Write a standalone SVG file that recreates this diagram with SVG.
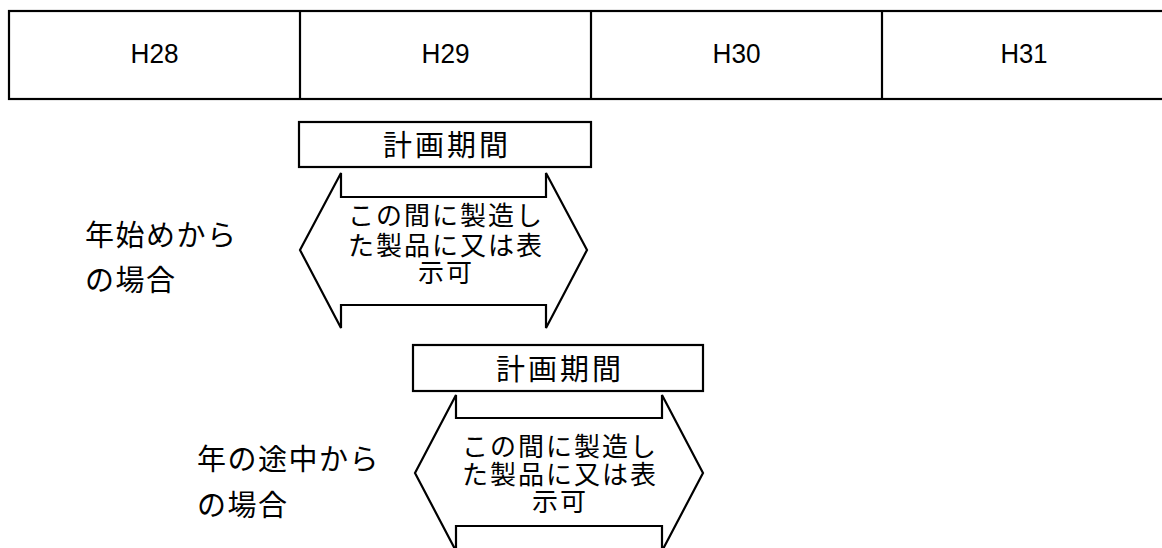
<svg xmlns="http://www.w3.org/2000/svg" width="1162" height="548" viewBox="0 0 1162 548">
<style>
.ln{fill:none;stroke:#000;stroke-width:2.2}
.box{fill:#fff;stroke:#000;stroke-width:2.2}
.hd{font-family:"Liberation Sans","Noto Sans CJK JP",sans-serif;font-size:28px;fill:#000;text-anchor:middle}
.jp{font-family:"Noto Sans CJK JP",sans-serif;fill:#000}
.t30{font-size:29px}
.t28{font-size:26px;text-anchor:middle;letter-spacing:2px}
</style>
<rect width="1162" height="548" fill="#fff"/>
<g id="table">
<rect class="ln" x="9" y="11" width="1164" height="88"/>
<line class="ln" x1="300" y1="11" x2="300" y2="99"/>
<line class="ln" x1="591" y1="11" x2="591" y2="99"/>
<line class="ln" x1="882" y1="11" x2="882" y2="99"/>
<text class="hd" x="154.5" y="63" textLength="48" lengthAdjust="spacingAndGlyphs">H28</text>
<text class="hd" x="445.5" y="63" textLength="48" lengthAdjust="spacingAndGlyphs">H29</text>
<text class="hd" x="736.5" y="63" textLength="48" lengthAdjust="spacingAndGlyphs">H30</text>
<text class="hd" x="1024" y="63" textLength="47" lengthAdjust="spacingAndGlyphs">H31</text>
</g>
<g id="label1">
<text class="jp t30" x="85" y="246" letter-spacing="1.5">年始めから</text>
<text class="jp t30" x="85" y="291" letter-spacing="1.5">の場合</text>
</g>
<g id="period1">
<rect class="box" x="299" y="122" width="292" height="45"/>
<text class="jp t30" x="447" y="156" text-anchor="middle" letter-spacing="3">計画期間</text>
</g>
<g id="arrow1">
<polygon class="ln" points="300,250 341,173 341,197 546,197 546,173 587,250 546,328 546,305 341,305 341,328"/>
<text class="jp t28" x="446" y="225">この間に製造し</text>
<text class="jp t28" x="446" y="255">た製品に又は表</text>
<text class="jp t28" x="446" y="282">示可</text>
</g>
<g id="label2">
<text class="jp t30" x="197" y="470" letter-spacing="1.5">年の途中から</text>
<text class="jp t30" x="197" y="516" letter-spacing="1.5">の場合</text>
</g>
<g id="period2">
<rect class="box" x="413" y="345" width="290" height="46"/>
<text class="jp t30" x="560" y="380" text-anchor="middle" letter-spacing="3">計画期間</text>
</g>
<g id="arrow2">
<polygon class="ln" points="415,473 456,395 456,418 662,418 662,395 703,473 662,551 662,526 456,526 456,551"/>
<text class="jp t28" x="560" y="456">この間に製造し</text>
<text class="jp t28" x="560" y="484">た製品に又は表</text>
<text class="jp t28" x="560" y="511">示可</text>
</g>
<g id="connectors"></g>
</svg>
